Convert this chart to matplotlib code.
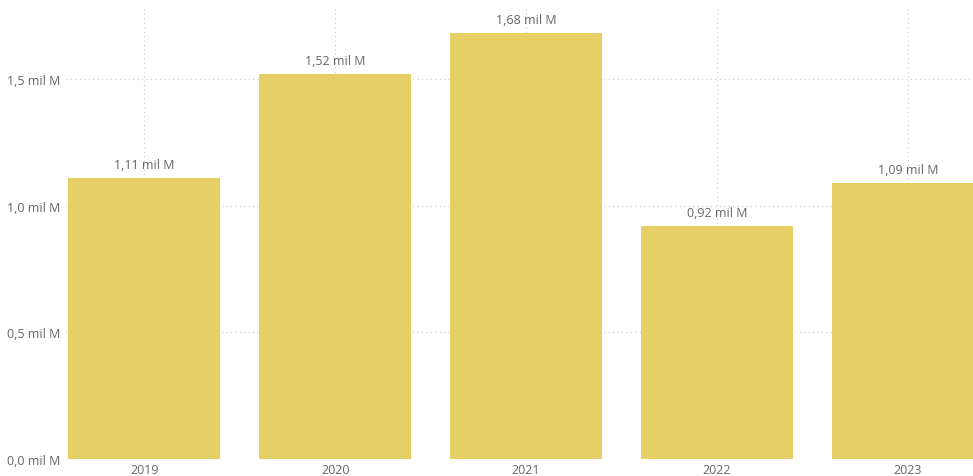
import matplotlib
matplotlib.use("Agg")
import matplotlib.pyplot as plt

years = ["2019", "2020", "2021", "2022", "2023"]
values = [1.11, 1.52, 1.68, 0.92, 1.09]
labels = ["1,11 mil M", "1,52 mil M", "1,68 mil M", "0,92 mil M", "1,09 mil M"]
yticks = [0.0, 0.5, 1.0, 1.5]
ytick_labels = ["0,0 mil M", "0,5 mil M", "1,0 mil M", "1,5 mil M"]

plt.rcParams['font.family'] = ['Open Sans', 'DejaVu Sans']

W, H = 973, 477
fig = plt.figure(figsize=(W / 100, H / 100), dpi=100)
ax = fig.add_axes([66 / W, 1 - 460 / H, (W - 66) / W, 450 / H])

x = list(range(len(years)))
ax.bar(x, values, width=0.796, color="#E6CF65", zorder=2)

for xi, v, lab in zip(x, values, labels):
    ax.annotate(lab, (xi, v), xytext=(0, 5), textcoords="offset points",
                ha="center", va="bottom", fontsize=9, color="#666666")

ax.set_xlim(-0.41, 4.34)
ax.set_ylim(0, 1.776)
ax.set_xticks(x)
ax.set_xticklabels(years)
ax.set_yticks(yticks)
ax.set_yticklabels(ytick_labels)
ax.tick_params(axis="both", length=0, labelsize=9, colors="#666666")
ax.tick_params(axis="y", pad=4)
ax.tick_params(axis="x", pad=3)
ax.grid(True, axis="both", linestyle=(0, (1, 3)), color="#C8C8C8", linewidth=0.8, zorder=0)
ax.set_axisbelow(True)
for s in ax.spines.values():
    s.set_visible(False)

fig.savefig("out.png", dpi=100)
